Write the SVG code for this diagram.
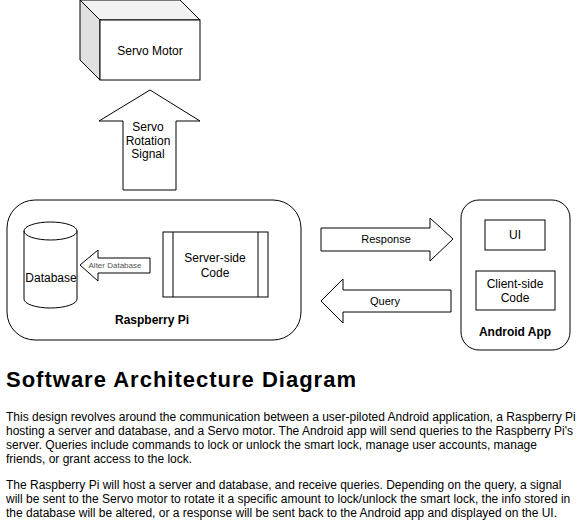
<svg xmlns="http://www.w3.org/2000/svg" width="581" height="531" viewBox="0 0 581 531">
<style>
text{font-family:"Liberation Sans",Arial,sans-serif;fill:#000}
.s{fill:#fff;stroke:#000;stroke-width:1}
.l{font-size:12px;text-anchor:middle}
.b{font-size:12px;font-weight:bold;text-anchor:middle}
.p{font-size:12px}
</style>
<rect width="581" height="531" fill="#fff"/>
<g id="servo-motor">
<polygon points="80,0 180,0 200,20 100,20" fill="#f2f2f2" stroke="#000"/>
<polygon points="80,0 100,20 100,80 80,60" fill="#e0e0e0" stroke="#000"/>
<rect x="100" y="20" width="100" height="60" class="s"/>
<text x="150" y="55" class="l">Servo Motor</text>
</g>
<g id="raspberry-pi">
<rect x="7" y="200" width="294" height="140" rx="28" ry="28" class="s"/>
<text x="152" y="324" class="b">Raspberry Pi</text>
</g>
<g id="database">
<path d="M24,231 A26.5,9 0 0,1 77,231 V299 A26.5,9 0 0,1 24,299 Z" class="s"/>
<path d="M24,231 A26.5,9 0 0,0 77,231" fill="none" stroke="#000"/>
<text x="51" y="282" class="l">Database</text>
</g>
<g id="server-side-code">
<rect x="163" y="232" width="105" height="65" class="s"/>
<line x1="173" y1="232" x2="173" y2="297" stroke="#000"/>
<line x1="258" y1="232" x2="258" y2="297" stroke="#000"/>
<text x="215" y="262" class="l">Server-side</text>
<text x="215" y="277" class="l">Code</text>
</g>
<g id="android-app">
<rect x="461" y="200" width="109" height="150" rx="18" ry="18" class="s"/>
<text x="515" y="336" class="b">Android App</text>
</g>
<g id="ui">
<rect x="485" y="220" width="60" height="30" class="s"/>
<text x="515" y="239" class="l">UI</text>
</g>
<g id="client-side-code">
<rect x="476" y="271" width="79" height="39" class="s"/>
<text x="515" y="288" class="l">Client-side</text>
<text x="515" y="302" class="l">Code</text>
</g>
<g id="connectors">
<g id="servo-rotation-signal">
<polygon points="150,90 200,121 176,121 176,190 123,190 123,121 99,121" class="s"/>
<text x="148" y="131" class="l">Servo</text>
<text x="148" y="145" class="l">Rotation</text>
<text x="148" y="158" class="l">Signal</text>
</g>
<g id="alter-database">
<polygon points="80,265 98,250 98,258 150,258 150,273 98,273 98,281" class="s"/>
<text x="115" y="268" font-size="8" text-anchor="middle" style="fill:#555">Alter Database</text>
</g>
<g id="response">
<polygon points="321,228 430,228 430,218 453,239 430,261 430,251 321,251" class="s"/>
<text x="386" y="243" class="l" style="font-size:11px">Response</text>
</g>
<g id="query">
<polygon points="321,301 343,279 343,290 451,290 451,312 343,312 343,323" class="s"/>
<text x="385" y="305" class="l" style="font-size:11px">Query</text>
</g>
</g>
<g id="description">
<text x="6" y="387" font-size="22" font-weight="bold" letter-spacing="1">Software Architecture Diagram</text>
<text class="p" x="6" y="421">This design revolves around the communication between a user-piloted Android application, a Raspberry Pi</text>
<text class="p" x="6" y="435">hosting a server and database, and a Servo motor. The Android app will send queries to the Raspberry Pi's</text>
<text class="p" x="6" y="449">server. Queries include commands to lock or unlock the smart lock, manage user accounts, manage</text>
<text class="p" x="6" y="463">friends, or grant access to the lock.</text>
<text class="p" x="6" y="489">The Raspberry Pi will host a server and database, and receive queries. Depending on the query, a signal</text>
<text class="p" x="6" y="503">will be sent to the Servo motor to rotate it a specific amount to lock/unlock the smart lock, the info stored in</text>
<text class="p" x="6" y="517">the database will be altered, or a response will be sent back to the Android app and displayed on the UI.</text>
</g>
</svg>
